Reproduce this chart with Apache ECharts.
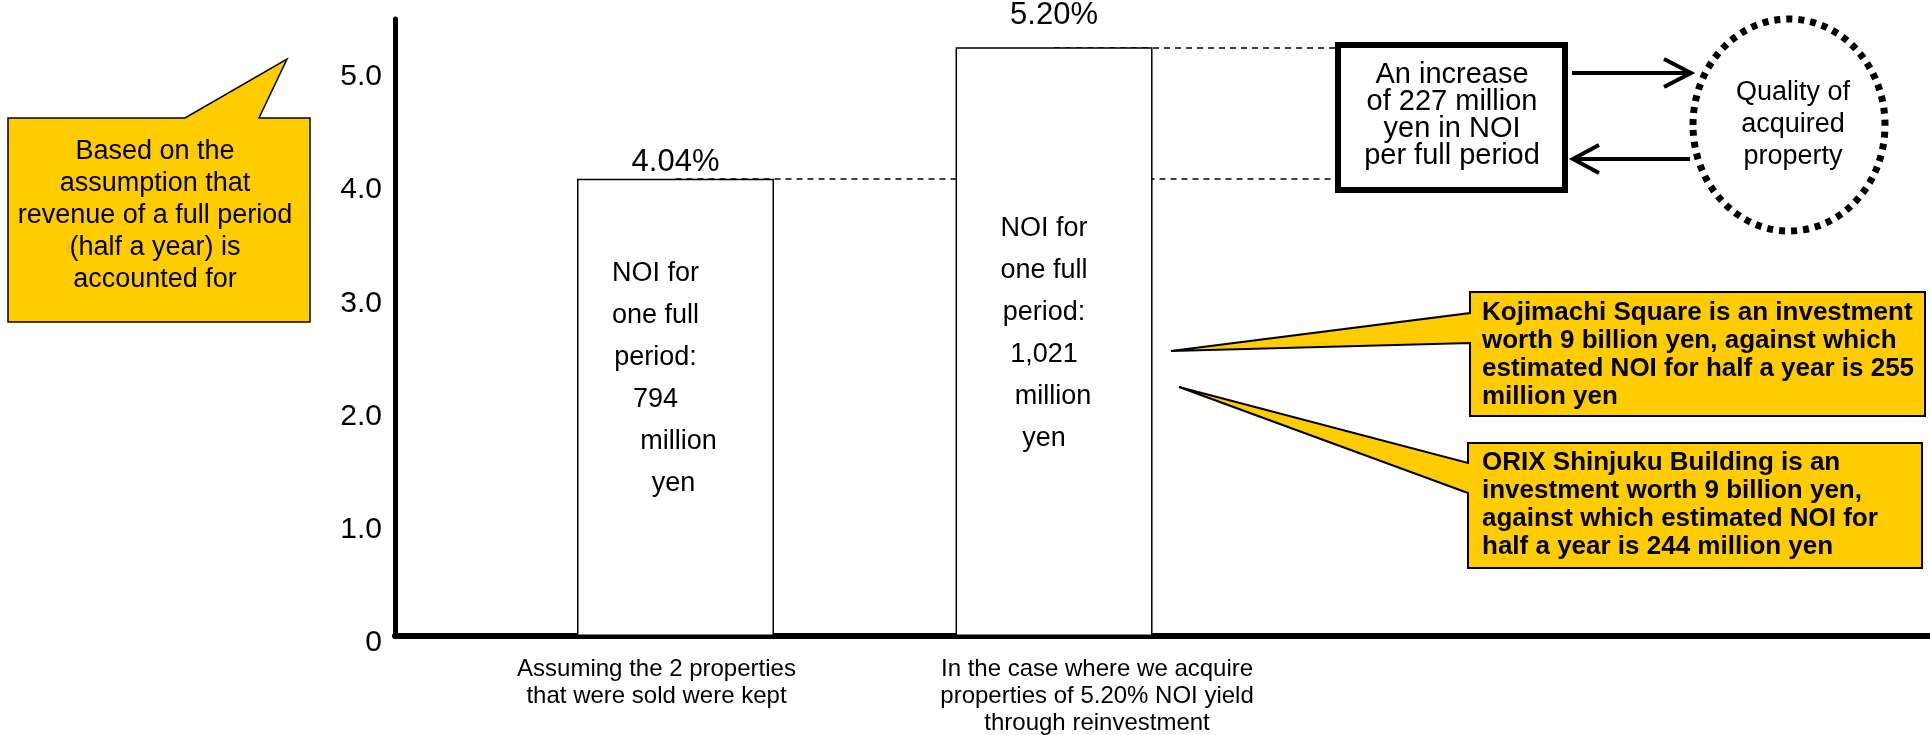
<!DOCTYPE html>
<html><head><meta charset="utf-8">
<script src="https://cdn.jsdelivr.net/npm/echarts@6/dist/echarts.min.js"></script>
<style>html,body{margin:0;padding:0;background:#fff}#c{width:1930px;height:735px}</style>
</head><body><div id="c"></div>
<script>
// ---- data ----
const categories = [
  'Assuming the 2 properties\nthat were sold were kept',
  'In the case where we acquire\nproperties of 5.20% NOI yield\nthrough reinvestment'
];
const categoryPos = [1, 2];
const noiYield = [4.04, 5.20];
const noiAmount = ['794', '1,021'];
const yTickLabels = ['0', '1.0', '2.0', '3.0', '4.0', '5.0'];

// ---- styles ----
const FONT = '"Liberation Sans", Arial, sans-serif';
const YELLOW = '#FFCC00';
const xMin = 0.259, xMax = 4.314;
const boxLeftX = 2.75;
const pctLabelDistance = [1, 16];
const insideLabelStyle = [
  { distance: 74, offset: [-20, 0] },
  { distance: 160, offset: [-10, 0] }
];

const chart = echarts.init(document.getElementById('c'));
const txt = (o) => Object.assign({ fill: '#000', fontFamily: FONT, verticalAlign: 'top' }, o);

chart.setOption({
  animation: false,
  backgroundColor: '#fff',
  grid: { left: 395, right: 0, top: 19, bottom: 99, outerBoundsMode: 'none' },
  xAxis: {
    type: 'value', min: xMin, max: xMax,
    axisLine: { show: true, onZero: false, lineStyle: { color: '#000', width: 6 } },
    axisTick: { show: false }, splitLine: { show: false },
    axisLabel: {
      customValues: categoryPos,
      margin: 20,
      color: '#000', fontFamily: FONT, fontSize: 24, lineHeight: 27,
      formatter: (v) => {
        const i = categoryPos.indexOf(v);
        if (i < 0) return '';
        return categories[i].split('\n').map(s => '{c' + i + '|' + s + '}').join('\n');
      },
      rich: {
        c0: { fontSize: 24, lineHeight: 27, fontFamily: FONT, color: '#000', padding: [0, 38, 0, 0] },
        c1: { fontSize: 24, lineHeight: 27, fontFamily: FONT, color: '#000', padding: [0, 0, 0, 86] }
      }
    }
  },
  yAxis: {
    type: 'value', min: 0, max: 5.45, interval: 1,
    axisLine: { show: true, onZero: false, lineStyle: { color: '#000', width: 5 } },
    axisTick: { show: false }, splitLine: { show: false },
    axisLabel: {
      color: '#000', fontFamily: FONT, fontSize: 30, margin: 13,
      verticalAlign: 'top', lineHeight: 14, showMaxLabel: false,
      formatter: (v) => Number.isInteger(v) ? yTickLabels[v] : ''
    }
  },
  series: [
    {
      type: 'bar', z: 2, barWidth: 197, barGap: '-100%',
      data: noiYield.map((v, i) => ({ value: [categoryPos[i], v], label: { distance: pctLabelDistance[i] } })),
      itemStyle: { color: '#fff', borderColor: '#000', borderWidth: 1.5 },
      emphasis: { disabled: true },
      label: {
        show: true, position: 'top',
        formatter: (p) => p.value[1].toFixed(2) + '%',
        fontSize: 31, color: '#000', fontFamily: FONT
      },
      markLine: {
        silent: true, z: 1, symbol: 'none', animation: false,
        label: { show: false },
        lineStyle: { color: '#000', type: [6, 5], width: 1.5 },
        emphasis: { disabled: true },
        data: noiYield.map((v, i) => [{ coord: [categoryPos[i], v] }, { coord: [boxLeftX, v] }])
      }
    },
    {
      type: 'bar', z: 3, barWidth: 197, barGap: '-100%', silent: true,
      data: noiYield.map((v, i) => ({
        value: [categoryPos[i], v],
        label: { distance: insideLabelStyle[i].distance, offset: insideLabelStyle[i].offset }
      })),
      itemStyle: { color: 'transparent', borderWidth: 0 },
      emphasis: { disabled: true },
      label: {
        show: true, position: 'insideTop', align: 'center',
        fontSize: 27, lineHeight: 42, color: '#000', fontFamily: FONT,
        formatter: (p) => 'NOI for\none full\nperiod:\n' + noiAmount[p.dataIndex] +
          '\n{m' + p.dataIndex + '|million}\n{y' + p.dataIndex + '|yen}',
        rich: {
          m0: { fontSize: 27, lineHeight: 42, fontFamily: FONT, color: '#000', padding: [0, 0, 0, 46] },
          y0: { fontSize: 27, lineHeight: 42, fontFamily: FONT, color: '#000', padding: [0, 0, 0, 36] },
          m1: { fontSize: 27, lineHeight: 42, fontFamily: FONT, color: '#000', padding: [0, 0, 0, 18] },
          y1: { fontSize: 27, lineHeight: 42, fontFamily: FONT, color: '#000', padding: [0, 0, 0, 0] }
        }
      }
    }
  ],
  graphic: [
    { type: 'polygon', z: 10,
      shape: { points: [[8,118],[185,118],[287,59],[259,118],[310,118],[310,322],[8,322]] },
      style: { fill: YELLOW, stroke: '#000', lineWidth: 1.5 } },
    { type: 'text', z: 11, style: txt({ x: 155, y: 136, align: 'center', fontSize: 27, lineHeight: 32,
      text: 'Based on the\nassumption that\nrevenue of a full period\n(half a year) is\naccounted for' }) },

    { type: 'rect', z: 10, shape: { x: 1338, y: 45, width: 227, height: 145 },
      style: { fill: '#fff', stroke: '#000', lineWidth: 6 } },
    { type: 'text', z: 11, style: txt({ x: 1452, y: 61, align: 'center', fontSize: 29, lineHeight: 27,
      text: 'An increase\nof 227 million\nyen in NOI\nper full period' }) },

    { type: 'polyline', z: 10, shape: { points: [[1572,73],[1690,73]] }, style: { stroke: '#000', lineWidth: 4 } },
    { type: 'polyline', z: 10, shape: { points: [[1664,59],[1691,73],[1664,87]] }, style: { stroke: '#000', lineWidth: 4, fill: null } },
    { type: 'polyline', z: 10, shape: { points: [[1690,159],[1574,159]] }, style: { stroke: '#000', lineWidth: 4 } },
    { type: 'polyline', z: 10, shape: { points: [[1599,145],[1573,159],[1599,173]] }, style: { stroke: '#000', lineWidth: 4, fill: null } },

    { type: 'ellipse', z: 10, shape: { cx: 1789, cy: 125, rx: 96, ry: 106 },
      style: { fill: '#fff', stroke: '#000', lineWidth: 7, lineDash: [6, 6] } },
    { type: 'text', z: 11, style: txt({ x: 1793, y: 77, align: 'center', fontSize: 27, lineHeight: 32,
      text: 'Quality of\nacquired\nproperty' }) },

    { type: 'polygon', z: 10,
      shape: { points: [[1470,292],[1925,292],[1925,416],[1470,416],[1470,343],[1171,351],[1470,313]] },
      style: { fill: YELLOW, stroke: '#000', lineWidth: 2 } },
    { type: 'text', z: 11, style: txt({ x: 1482, y: 299, align: 'left', fontSize: 26, fontWeight: 'bold', lineHeight: 28,
      text: 'Kojimachi Square is an investment\nworth 9 billion yen, against which\nestimated NOI for half a year is 255\nmillion yen' }) },
    { type: 'polygon', z: 10,
      shape: { points: [[1468,443],[1922,443],[1922,568],[1468,568],[1468,493],[1179,387],[1468,463]] },
      style: { fill: YELLOW, stroke: '#000', lineWidth: 2 } },
    { type: 'text', z: 11, style: txt({ x: 1482, y: 449, align: 'left', fontSize: 26, fontWeight: 'bold', lineHeight: 28,
      text: 'ORIX Shinjuku Building is an\ninvestment worth 9 billion yen,\nagainst which estimated NOI for\nhalf a year is 244 million yen' }) }
  ]
});
</script>
</body></html>
